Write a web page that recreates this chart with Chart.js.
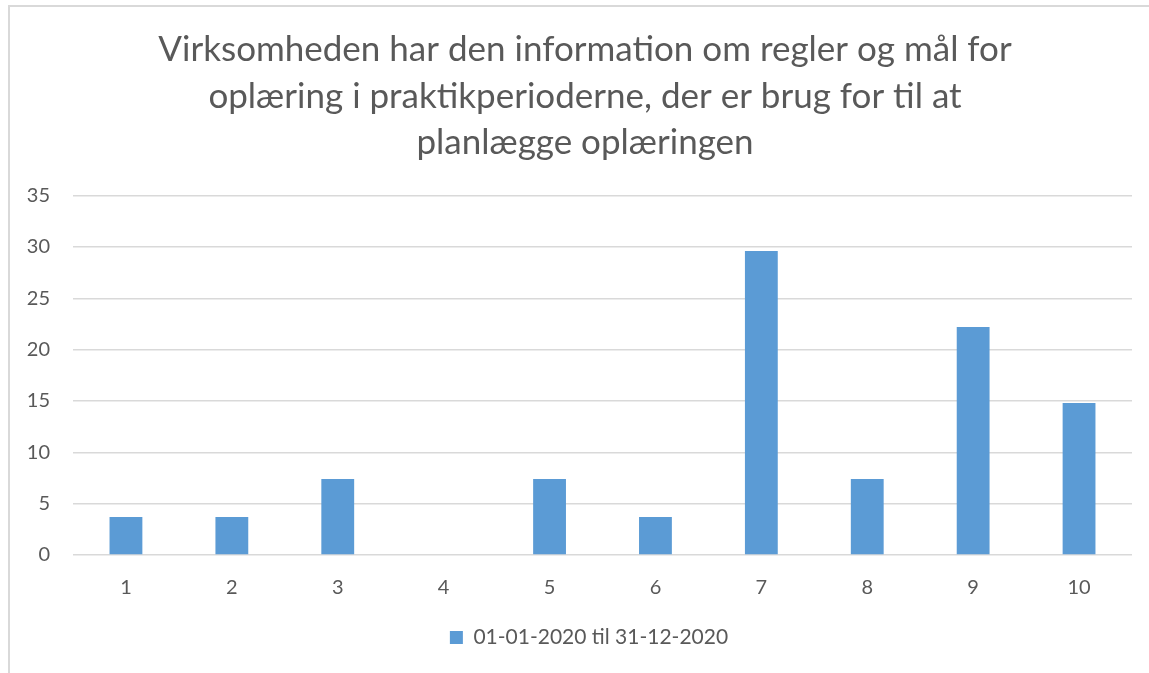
<!DOCTYPE html>
<html>
<head>
<meta charset="utf-8">
<script src="https://cdn.jsdelivr.net/npm/chart.js@4"></script>
<style>
    html, body { margin: 0; padding: 0; background: #fff; }
    #wrap { position: relative; width: 1149px; height: 673px; overflow: hidden; }
    #frame { position: absolute; left: 8px; top: 5px; width: 1200px; height: 800px; border: 2px solid #d9d9d9; box-sizing: border-box; }
    canvas { position: absolute; left: 0; top: 0; }
</style>
</head>
<body>
<div id="wrap">
    <div id="frame"></div>
    <canvas id="chart" width="1149" height="673"></canvas>
</div>
<script>
// Chart data
const categories = ['1', '2', '3', '4', '5', '6', '7', '8', '9', '10'];
const seriesLabel = '01-01-2020 til 31-12-2020';
const seriesValues = [3.7, 3.7, 7.4, 0, 7.4, 3.7, 29.6, 7.4, 22.2, 14.8];
const yTicks = [0, 5, 10, 15, 20, 25, 30, 35];
const titleLines = [
    'Virksomheden har den information om regler og mål for',
    'oplæring i praktikperioderne, der er brug for til at',
    'planlægge oplæringen'
];

const textColor = '#595959';
const fontFamily = "Lato, 'Open Sans', sans-serif";

// Shift title and legend boxes so they centre on the framed area, not the canvas
const boxShift = {
    id: 'boxShift',
    afterLayout(chart) {
        if (chart.titleBlock) {
            chart.titleBlock.left = 38;
        }
        if (chart.legend) {
            chart.legend.left = 46;
        }
    }
};

document.addEventListener("DOMContentLoaded", () => {
    renderChart();
});

// Render the bar chart
function renderChart() {
    const ctx = document.getElementById('chart').getContext('2d');
    new Chart(ctx, {
        type: 'bar',
        data: {
            labels: categories,
            datasets: [{
                label: seriesLabel,
                data: seriesValues,
                backgroundColor: '#5b9bd5',
                borderWidth: 0,
                barPercentage: 0.31,
                categoryPercentage: 1
            }]
        },
        options: {
            responsive: false,
            animation: false,
            layout: {
                padding: { left: 20, right: 17, top: 27, bottom: 15 }
            },
            scales: {
                x: {
                    grid: { display: false },
                    border: { display: false },
                    ticks: {
                        color: textColor,
                        font: { family: fontFamily, size: 20 },
                        padding: 13
                    }
                },
                y: {
                    min: 0,
                    max: 35,
                    afterFit: (scale) => { scale.width = 53; },
                    afterBuildTicks: (scale) => {
                        scale.ticks = yTicks.map(v => ({ value: v }));
                    },
                    grid: {
                        color: '#d9d9d9',
                        lineWidth: 1.5,
                        drawTicks: false
                    },
                    border: { display: false },
                    ticks: {
                        color: textColor,
                        font: { family: fontFamily, size: 20 },
                        padding: 23
                    }
                }
            },
            plugins: {
                title: {
                    display: true,
                    text: titleLines,
                    color: textColor,
                    font: { family: fontFamily, size: 35, weight: 'normal', lineHeight: 1.32 },
                    padding: { top: 0, bottom: 30 }
                },
                legend: {
                    position: 'bottom',
                    labels: {
                        color: textColor,
                        font: { family: fontFamily, size: 21 },
                        boxWidth: 13,
                        boxHeight: 13,
                        padding: 14
                    }
                },
                tooltip: { enabled: false }
            }
        },
        plugins: [boxShift]
    });
}
</script>
</body>
</html>
